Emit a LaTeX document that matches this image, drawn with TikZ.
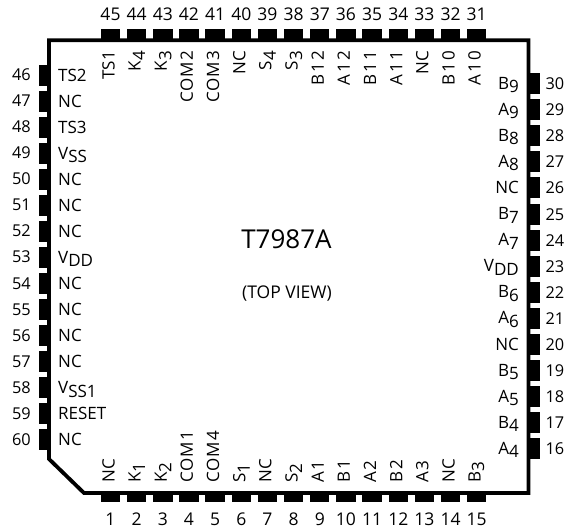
\documentclass[tikz,border=0pt]{standalone}
\usepackage{fontspec}
\setmainfont{Open Sans}
\newcommand{\sbx}[2]{#1\raisebox{-3.5pt}{#2}}
\newcommand{\sbr}[2]{#1\raisebox{-4.5pt}{#2}}
\newcommand{\spc}[2]{#1\hspace{2pt}#2}
\newcommand{\spd}[3]{#1\hspace{2pt}#2\hspace{2pt}#3}
\newcommand{\comlab}[1]{{\addfontfeature{LetterSpace=6}#1}}
\tikzset{
  x=1pt,y=-1pt,
  pinbox/.style={fill=black,draw=none},
  pinnum/.style={font=\fontsize{17.5}{18}\selectfont,inner sep=0pt},
  sidenum/.style={font=\fontsize{16.3}{18}\selectfont,inner sep=0pt},
  pinlab/.style={font=\fontsize{17}{18}\selectfont,inner sep=0pt},
  framedraw/.style={draw=black,line width=3.8pt,line join=miter},
}
\begin{document}
\begin{tikzpicture}
\useasboundingbox (0,0) rectangle (565,530);
\draw[framedraw] (49,459) -- (49,40.3) -- (528.5,40.3) -- (528.5,493) -- (84,493) -- cycle;
% top pins 45..31
\foreach \n/\lab [count=\i from 0] in {45/TS1,44/\sbr{K}{4},43/\sbr{K}{3},42/\comlab{COM2},41/\comlab{COM3},40/NC,39/\sbr{S}{4},38/\sbr{S}{3},37/\spd{B}{1}{2},36/\spd{A}{1}{2},35/\spd{B}{1}{1},34/\spd{A}{1}{1},33/NC,32/\spd{B}{1}{0},31/\spd{A}{1}{0}}{
  \pgfmathsetmacro{\px}{110.5+26.16*\i}
  \fill[pinbox] (\px-9.7,29) rectangle (\px+9.7,39);
  \node[pinnum,anchor=base] (t\n) at (\px,20.5) {\n};
  \node[pinlab,anchor=base east,rotate=90] (tl\n) at (\px+4,51) {\lab};
}
% bottom pins 1..15
\foreach \n/\lab [count=\i from 0] in {1/NC,2/\sbr{K}{1},3/\sbr{K}{2},4/\comlab{COM1},5/\comlab{COM4},6/\sbr{S}{1},7/NC,8/\sbr{S}{2},9/\spc{A}{1},10/\spc{B}{1},11/\spc{A}{2},12/\spc{B}{2},13/\spc{A}{3},14/NC,15/\sbx{B}{3}}{
  \pgfmathsetmacro{\px}{110.5+26.16*\i}
  \fill[pinbox] (\px-9.7,494) rectangle (\px+9.7,502);
  \node[pinnum,anchor=base] (b\n) at (\px,525) {\n};
  \node[pinlab,anchor=base west,rotate=90] (bl\n) at (\px+4,483) {\lab};
}
% left pins 46..60
\foreach \n/\lab [count=\i from 0] in {46/TS2,47/NC,48/TS3,49/\sbx{V}{SS},50/NC,51/NC,52/NC,53/\sbx{V}{DD},54/NC,55/NC,56/NC,57/NC,58/\sbx{V}{SS1},59/RESET,60/NC}{
  \pgfmathsetmacro{\py}{75+26.07*\i}
  \fill[pinbox] (38.5,\py-10.5) rectangle (48,\py+10.5);
  \node[sidenum,anchor=base east] (l\n) at (31,\py+5.5) {\n};
  \node[pinlab,anchor=base west] (ll\n) at (58,\py+6) {\lab};
}
% right pins 30..16
\foreach \n/\lab [count=\i from 0] in {30/\sbx{B}{9},29/\sbx{A}{9},28/\sbx{B}{8},27/\sbx{A}{8},26/NC,25/\sbx{B}{7},24/\sbx{A}{7},23/\sbx{V}{DD},22/\sbx{B}{6},21/\sbx{A}{6},20/NC,19/\sbx{B}{5},18/\sbx{A}{5},17/\sbx{B}{4},16/\sbx{A}{4}}{
  \pgfmathsetmacro{\py}{83.5+26.1*\i}
  \fill[pinbox] (529,\py-10.5) rectangle (539.5,\py+10.5);
  \node[sidenum,anchor=base east] (r\n) at (564.5,\py+6) {\n};
  \node[pinlab,anchor=base east] (rl\n) at (519,\py+5.5) {\lab};
}
\node[font=\fontsize{26}{26}\selectfont,inner sep=0pt,anchor=base] (title) at (286.5,248) {T7987A};
\node[font=\fontsize{17.5}{18}\selectfont,inner sep=0pt,anchor=base] (view) at (287,298) {(TOP VIEW)};
\end{tikzpicture}
\end{document}
